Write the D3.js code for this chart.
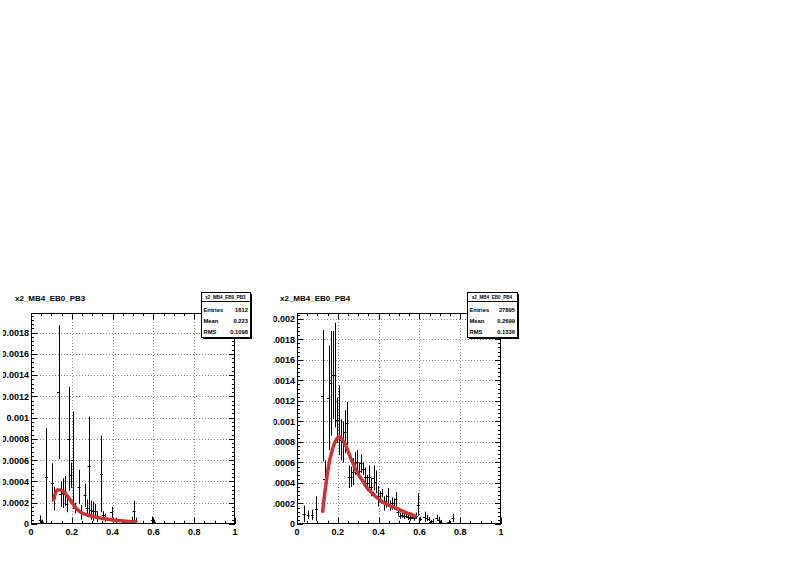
<!DOCTYPE html>
<html><head><meta charset="utf-8">
<script src="https://cdn.jsdelivr.net/npm/d3@7"></script>
<style>body{margin:0;background:#fff}svg{display:block}text{font-family:"Liberation Sans",Arial,Helvetica,sans-serif;font-weight:bold}</style>
</head><body>
<script>
// ---------- data ----------
const xTicks = [0, 0.2, 0.4, 0.6, 0.8, 1];
const xTickLabels = ["0", "0.2", "0.4", "0.6", "0.8", "1"];
const yTicks = [0, 0.0002, 0.0004, 0.0006, 0.0008, 0.001, 0.0012, 0.0014, 0.0016, 0.0018, 0.002];
const yTickLabels = ["0", "0.0002", "0.0004", "0.0006", "0.0008", "0.001", "0.0012", "0.0014", "0.0016", "0.0018", "0.002"];

const titles = ["x2_MB4_EB0_PB3", "x2_MB4_EB0_PB4"];
const statNames = ["Entries", "Mean", "RMS"];
const statsPB3 = ["1612", "0.223", "0.1098"];
const statsPB4 = ["27895", "0.2699", "0.1336"];
const yMaxPB3 = 0.001985;
const yMaxPB4 = 0.002056;

// histogram PB3 (bin centre, content, error)
const pb3X   = [0.045, 0.055, 0.075, 0.105, 0.115, 0.135, 0.145, 0.155, 0.165, 0.175, 0.185, 0.195, 0.205, 0.215, 0.235, 0.245, 0.265, 0.275, 0.285, 0.295, 0.305, 0.315, 0.325, 0.345, 0.355, 0.365, 0.395, 0.415, 0.455, 0.495, 0.505, 0.515, 0.595, 0.605];
const pb3Y   = [0.00004, 0.00002, 0.00044, 0.00039, 0.00024, 0.00124, 0.00028, 0.00029, 0.00031, 0.00019, 0.00080, 0.00046, 0.00060, 0.00015, 0.00035, 0.00011, 0.00027, 0.00015, 0.00055, 0.00013, 0.00012, 0.00012, 0.00007, 0.00047, 0.00008, 0.00006, 0.00011, 0.00003, 0.00002, 0.00004, 0.00012, 0.00003, 0.00004, 0.00002];
const pb3Err = [0.00004, 0.00002, 0.00046, 0.00018, 0.00011, 0.00063, 0.00012, 0.00014, 0.00014, 0.00008, 0.00049, 0.00012, 0.00046, 0.00005, 0.00016, 0.00007, 0.00011, 0.00008, 0.00046, 0.00009, 0.00009, 0.00007, 0.00005, 0.00036, 0.00004, 0.00004, 0.00005, 0.00003, 0.00002, 0.00003, 0.00010, 0.00003, 0.00003, 0.00002];

// histogram PB4
const pb4X   = [0.035, 0.055, 0.075, 0.095, 0.125, 0.135, 0.155, 0.165, 0.175, 0.185, 0.195, 0.205, 0.215, 0.225, 0.235, 0.245, 0.255, 0.265, 0.275, 0.285, 0.295, 0.305, 0.315, 0.325, 0.335, 0.345, 0.355, 0.365, 0.375, 0.385, 0.395, 0.405, 0.415, 0.425, 0.435, 0.445, 0.455, 0.465, 0.475, 0.485, 0.495, 0.505, 0.515, 0.525, 0.535, 0.545, 0.555, 0.565, 0.575, 0.585, 0.595, 0.605, 0.625, 0.635, 0.645, 0.655, 0.665, 0.685, 0.695, 0.705, 0.745, 0.765];
const pb4Y   = [0.00010, 0.00009, 0.00009, 0.00015, 0.00125, 0.00044, 0.00123, 0.00137, 0.00145, 0.00145, 0.00101, 0.00101, 0.00082, 0.00080, 0.00090, 0.00098, 0.00046, 0.00046, 0.00051, 0.00059, 0.00060, 0.00052, 0.00059, 0.00054, 0.00046, 0.00040, 0.00046, 0.00036, 0.00045, 0.00041, 0.00027, 0.00027, 0.00030, 0.00020, 0.00022, 0.00027, 0.00018, 0.00020, 0.00020, 0.00024, 0.00012, 0.00008, 0.00009, 0.00008, 0.00008, 0.00007, 0.00006, 0.00007, 0.00006, 0.00008, 0.00019, 0.00005, 0.00007, 0.00006, 0.00005, 0.00002, 0.00003, 0.00006, 0.00004, 0.00002, 0.00002, 0.00006];
const pb4Err = [0.00008, 0.00004, 0.00005, 0.00012, 0.00064, 0.00018, 0.00051, 0.00051, 0.00043, 0.00051, 0.00022, 0.00034, 0.00020, 0.00020, 0.00021, 0.00021, 0.00011, 0.00010, 0.00013, 0.00011, 0.00012, 0.00008, 0.00009, 0.00006, 0.00009, 0.00008, 0.00011, 0.00009, 0.00012, 0.00011, 0.00010, 0.00005, 0.00004, 0.00007, 0.00006, 0.00008, 0.00005, 0.00006, 0.00005, 0.00007, 0.00004, 0.00003, 0.00003, 0.00003, 0.00002, 0.00003, 0.00003, 0.00002, 0.00003, 0.00003, 0.00011, 0.00002, 0.00005, 0.00003, 0.00002, 0.00002, 0.00002, 0.00003, 0.00003, 0.00002, 0.00002, 0.00004];

// fit curves
const fit3X = [0.11, 0.12, 0.13, 0.142, 0.155, 0.167, 0.18, 0.191, 0.205, 0.216, 0.232, 0.248, 0.265, 0.281, 0.305, 0.33, 0.355, 0.379, 0.41, 0.444, 0.48, 0.51, 0.52];
const fit3Y = [0.00022, 0.00029, 0.00032, 0.00032, 0.00031, 0.00029, 0.00026, 0.00023, 0.00019, 0.000157, 0.000128, 0.000106, 0.000092, 0.000082, 0.00007, 0.00006, 0.000052, 0.000044, 0.000036, 0.00003, 0.000024, 0.00002, 0.000019];
const fit4X = [0.125, 0.136, 0.144, 0.152, 0.16, 0.169, 0.177, 0.185, 0.195, 0.206, 0.216, 0.226, 0.238, 0.25, 0.262, 0.275, 0.29, 0.308, 0.325, 0.34, 0.365, 0.39, 0.415, 0.439, 0.47, 0.504, 0.54, 0.565, 0.586];
const fit4Y = [0.00011, 0.0003, 0.00042, 0.00053, 0.00062, 0.00069, 0.00075, 0.00079, 0.00083, 0.00085, 0.00084, 0.00081, 0.00077, 0.00071, 0.00065, 0.00059, 0.00052, 0.00046, 0.00041, 0.00036, 0.00031, 0.00026, 0.00022, 0.000195, 0.000165, 0.000137, 0.000107, 0.00009, 0.00007];

const binHalf = 0.0075;

// ---------- drawing ----------
const W = 796, H = 572;
const svg = d3.select("body").append("svg").attr("width", W).attr("height", H);
svg.append("rect").attr("width", W).attr("height", H).attr("fill", "#fff");

const panels = [
  {title: titles[0], stats: statsPB3, xs: pb3X, ys: pb3Y, es: pb3Err, fx: fit3X, fy: fit3Y, yMax: yMaxPB3,
   left: 31, right: 235, top: 313, bottom: 524, labClip: 3, statBox: [201, 292, 49, 45], titleX: 15},
  {title: titles[1], stats: statsPB4, xs: pb4X, ys: pb4Y, es: pb4Err, fx: fit4X, fy: fit4Y, yMax: yMaxPB4,
   left: 297, right: 501, top: 313, bottom: 524, labClip: 273.5, statBox: [467, 292, 50, 45], titleX: 280}
];

panels.forEach((p, i) => {
  const g = svg.append("g");
  const x = d3.scaleLinear().domain([0, 1]).range([p.left, p.right]);
  const y = d3.scaleLinear().domain([0, p.yMax]).range([p.bottom, p.top]);
  const fw = p.right - p.left, fh = p.bottom - p.top;

  const clipId = "clip" + i, labId = "lab" + i;
  const defs = svg.append("defs");
  defs.append("clipPath").attr("id", clipId).append("rect")
    .attr("x", p.left).attr("y", p.top).attr("width", fw).attr("height", fh);
  defs.append("clipPath").attr("id", labId).append("rect")
    .attr("x", p.labClip).attr("y", 0).attr("width", 300).attr("height", H);

  // grid
  const grid = g.append("g").attr("stroke", "#8c8c8c").attr("stroke-width", 1).attr("stroke-dasharray", "1,2");
  xTicks.slice(1, -1).forEach(t => grid.append("line").attr("x1", Math.round(x(t)) + 0.5).attr("x2", Math.round(x(t)) + 0.5).attr("y1", p.top).attr("y2", p.bottom));
  yTicks.filter(t => t > 0 && t < p.yMax).forEach(t => grid.append("line").attr("x1", p.left).attr("x2", p.right).attr("y1", Math.round(y(t)) + 0.5).attr("y2", Math.round(y(t)) + 0.5));

  // axes ticks (inside, mirrored)
  const tk = g.append("g").attr("stroke", "#000").attr("stroke-width", 1);
  const xMajLen = 0.03 * fh, yMajLen = 0.03 * fw;
  const xMinor = d3.range(0, 1.0001, 0.05);
  xMinor.forEach((t, k) => {
    const len = (k % 4 === 0) ? xMajLen : xMajLen / 2;
    const xx = Math.round(x(t)) + 0.5;
    tk.append("line").attr("x1", xx).attr("x2", xx).attr("y1", p.bottom).attr("y2", p.bottom - len);
    tk.append("line").attr("x1", xx).attr("x2", xx).attr("y1", p.top).attr("y2", p.top + len);
  });
  const yMinor = d3.range(0, p.yMax + 1e-9, 0.00004);
  yMinor.forEach((t, k) => {
    const len = (k % 5 === 0) ? yMajLen : yMajLen / 2;
    const yy = Math.round(y(t)) + 0.5;
    tk.append("line").attr("x1", p.left).attr("x2", p.left + len).attr("y1", yy).attr("y2", yy);
    tk.append("line").attr("x1", p.right).attr("x2", p.right - len).attr("y1", yy).attr("y2", yy);
  });

  // x labels
  const xl = g.append("g").attr("font-size", 9).attr("text-anchor", "middle");
  xTicks.forEach((t, k) => xl.append("text").attr("x", x(t)).attr("y", p.bottom + 11).text(xTickLabels[k]));

  // y labels
  const yl = g.append("g").attr("font-size", 9).attr("text-anchor", "end").attr("clip-path", `url(#${labId})`);
  yTicks.forEach((t, k) => { if (t <= p.yMax + 1e-9) yl.append("text").attr("x", p.left - 2).attr("y", y(t) + 3.3).text(yTickLabels[k]); });

  // data error bars
  const dg = g.append("g").attr("clip-path", `url(#${clipId})`).attr("stroke", "#000").attr("stroke-width", 1);
  p.xs.forEach((xv, k) => {
    const yv = p.ys[k], ev = p.es[k];
    const cx = Math.round(x(xv)) + 0.5, cy = Math.round(y(yv)) + 0.5;
    dg.append("line").attr("x1", cx).attr("x2", cx).attr("y1", y(Math.max(0, yv - ev))).attr("y2", y(yv + ev));
    dg.append("line").attr("x1", x(xv - binHalf)).attr("x2", x(xv + binHalf)).attr("y1", cy).attr("y2", cy);
  });

  // fit curve
  const line = d3.line().x(d => x(d[0])).y(d => y(d[1])).curve(d3.curveMonotoneX);
  g.append("path").attr("clip-path", `url(#${clipId})`)
    .datum(p.fx.map((v, k) => [v, p.fy[k]]))
    .attr("d", line).attr("fill", "none").attr("stroke", "#cc3333").attr("stroke-width", 3.5);

  // frame
  g.append("rect").attr("x", p.left + 0.5).attr("y", p.top + 0.5).attr("width", fw - 1).attr("height", fh - 1)
    .attr("fill", "none").attr("stroke", "#000").attr("stroke-width", 1);

  // title
  g.append("text").attr("x", p.titleX).attr("y", 300.5).attr("font-size", 8).text(p.title);

  // stats box
  const [sx, sy, sw, sh] = p.statBox;
  g.append("rect").attr("x", sx + 2).attr("y", sy + 2).attr("width", sw).attr("height", sh).attr("fill", "#000");
  g.append("rect").attr("x", sx + 0.5).attr("y", sy + 0.5).attr("width", sw).attr("height", sh).attr("fill", "#fff").attr("stroke", "#000");
  g.append("line").attr("x1", sx).attr("x2", sx + sw).attr("y1", sy + 9.5).attr("y2", sy + 9.5).attr("stroke", "#000");
  g.append("text").attr("x", sx + sw / 2).attr("y", sy + 6.8).attr("font-size", 4.6).attr("text-anchor", "middle").text(p.title);
  statNames.forEach((n, k) => {
    const yy = sy + 19.5 + k * 11;
    g.append("text").attr("x", sx + 2.5).attr("y", yy).attr("font-size", 5.8).text(n);
    g.append("text").attr("x", sx + sw - 2).attr("y", yy).attr("font-size", 5.8).attr("text-anchor", "end").text(p.stats[k]);
  });
});
</script>
</body></html>
